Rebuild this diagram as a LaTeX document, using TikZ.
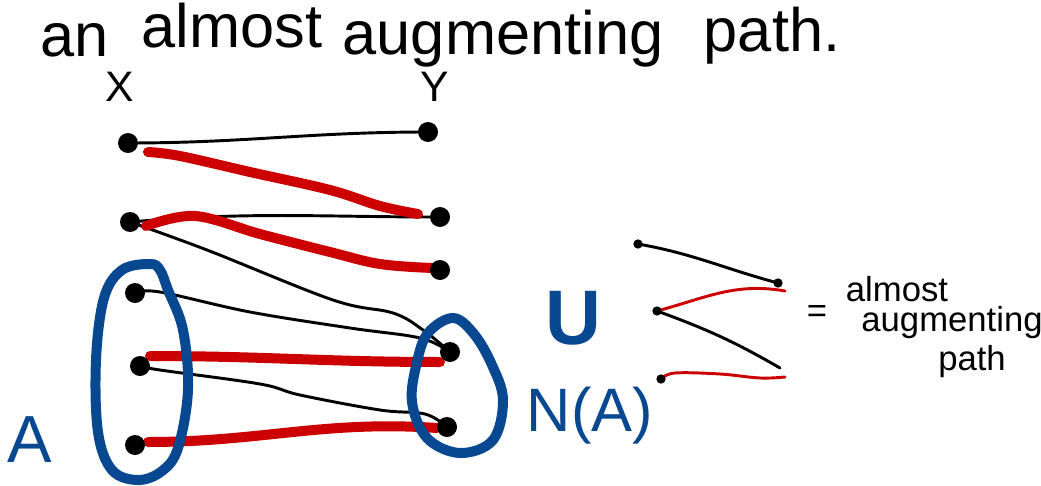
\documentclass[tikz,border=0pt]{standalone}
\usepackage{fontspec}
\setmainfont{Liberation Sans}
\definecolor{penred}{RGB}{204,0,0}
\definecolor{penblue}{RGB}{8,72,145}
\tikzset{
  blk/.style={line width=2.2pt, black, line cap=round},
  redline/.style={line width=7.5pt, penred, line cap=round},
  blueloop/.style={line width=7.5pt, penblue, line cap=round, line join=round},
  vdot/.style={circle, fill=black, inner sep=0pt, minimum size=15pt},
  sdot/.style={circle, fill=black, inner sep=0pt, minimum size=7pt},
  sblk/.style={line width=2.2pt, black, line cap=round},
  sred/.style={line width=2.2pt, penred, line cap=round},
  title/.style={font=\fontsize{46}{50}\selectfont, inner sep=0pt, anchor=base},
  lbl/.style={font=\fontsize{32}{36}\selectfont, inner sep=0pt, anchor=base},
  bluelbl/.style={font=\fontsize{50}{56}\selectfont, text=penblue, inner sep=0pt},
  small/.style={font=\fontsize{26}{30}\selectfont, inner sep=0pt},
}
\begin{document}
\begin{tikzpicture}[x=0.75pt, y=-0.75pt]
\useasboundingbox (0,0) rectangle (1041,485);
% title
\node[title] (t1) at (75,56) {an};
\node[title] (t2) at (232,48) {almost};
\node[title] (t3) at (503,55) {augmenting};
\node[title] (t4) at (772,52) {path.};
\node[lbl] (lx) at (120,101) {X};
\node[lbl] (ly) at (435,101) {Y};
% vertices
\coordinate (x1) at (128,143);
\coordinate (x2) at (130,222);
\coordinate (x3) at (135,293);
\coordinate (x4) at (140,366);
\coordinate (x5) at (135,445);
\coordinate (y1) at (428,132);
\coordinate (y2) at (440,217);
\coordinate (y3) at (440,270);
\coordinate (y4) at (450,352);
\coordinate (y5) at (447,427);
% black edges
\draw[blk] (x1) to[out=0,in=180] (y1);
\draw[blk] (x2) to[out=5,in=180] (y2);
\draw[blk] plot[smooth, tension=0.6] coordinates {(x2) (207,250) (333,300) (393,313) (423,330) (y4)};
\draw[blk] plot[smooth, tension=0.6] coordinates {(x3) (160,292) (250,312) (350,328) (420,338) (y4)};
\draw[blk] plot[smooth, tension=0.6] coordinates {(x4) (160,370) (260,384) (300,395) (380,410) (425,414) (y5)};
% red edges
\draw[redline] plot[smooth, tension=0.6] coordinates {(148,152) (180,156) (250,172) (330,190) (380,206) (418,214)};
\draw[redline] plot[smooth, tension=0.6] coordinates {(146,226) (195,216) (260,234) (330,252) (380,264) (432,268)};
\draw[redline] (150,356) to[out=0,in=180] (440,362);
\draw[redline] (148,442) to[out=0,in=176] (437,428);
% dots
\foreach \v in {x1,x2,x3,x4,x5,y1,y2,y3,y4,y5}
  \node[vdot] (d\v) at (\v) {};
% blue loops
\draw[blueloop] plot[smooth cycle, tension=0.6] coordinates
  {(150,264) (122,270) (104,298) (96,360) (98,432) (112,470) (138,480) (162,471) (178,448) (188,390) (183,330) (168,290) (160,270)};
\draw[blueloop] plot[smooth cycle, tension=0.6] coordinates
  {(453,318) (428,333) (417,362) (412,402) (427,438) (460,453) (493,440) (503,400) (492,365) (474,334)};
\node[bluelbl] (la) at (30,440) {A};
\node[bluelbl, font=\fontsize{46}{50}\selectfont] (lna) at (590,416) {N(A)};
\node[bluelbl, font=\bfseries\fontsize{58}{62}\selectfont] (lu) at (573,318) {U};
% small diagram
\coordinate (sa) at (638,244);
\coordinate (sb) at (778,283);
\coordinate (sc) at (657,311);
\coordinate (sd) at (780,368);
\coordinate (se) at (661,379);
\coordinate (sf) at (785,377);
\draw[sblk] (sa) to[out=-10,in=165] (sb);
\draw[sred] (785,291) to[out=170,in=15] (sc);
\draw[sblk] (sc) to[out=-20,in=150] (sd);
\draw[sred] plot[smooth, tension=0.6] coordinates {(se) (675,373) (720,374) (760,378) (sf)};
\foreach \v in {sa,sb,sc,se}
  \node[sdot] (d\v) at (\v) {};
\node[small] (eq) at (817,314) {=};
\node[small] (w1) at (897,289) {almost};
\node[small] (w2) at (952,323) {augmenting};
\node[small] (w3) at (972,362) {path};
\end{tikzpicture}
\end{document}
